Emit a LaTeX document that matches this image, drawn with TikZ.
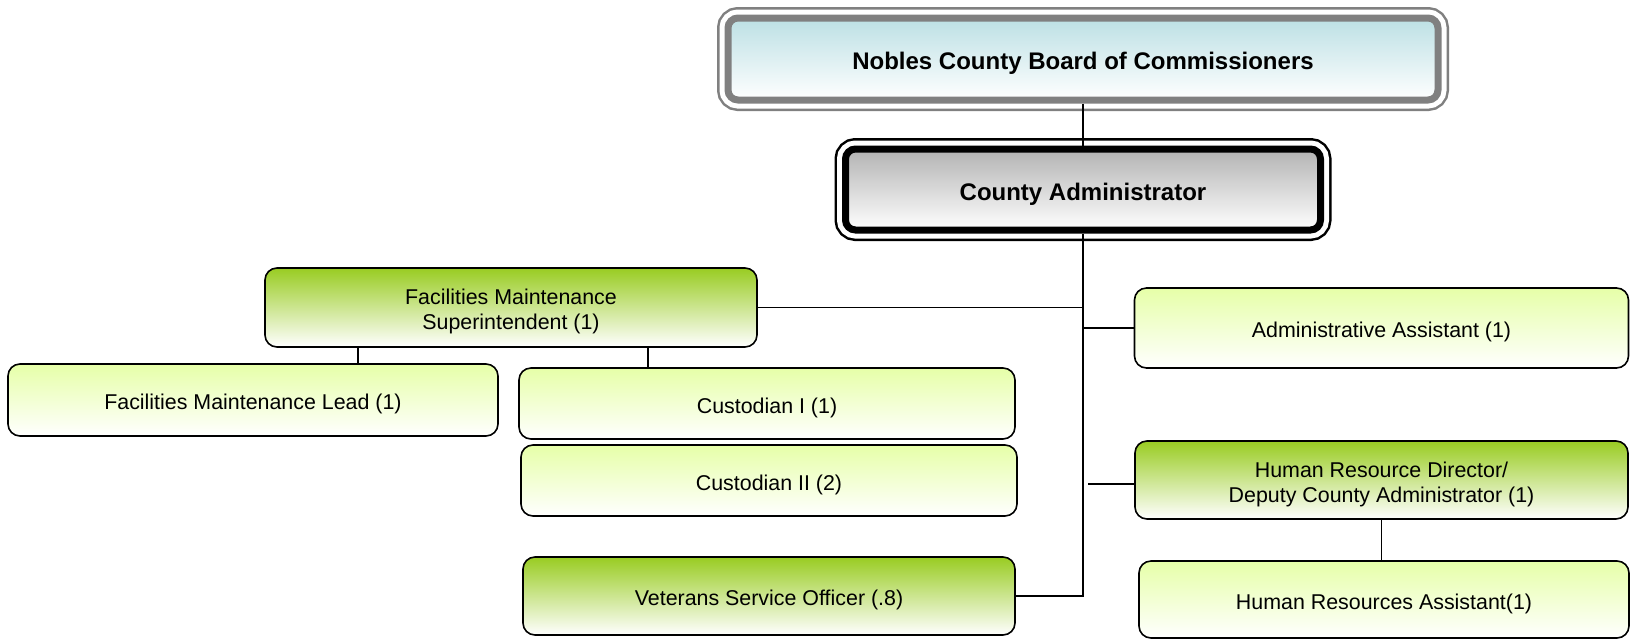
\documentclass[tikz,border=0pt]{standalone}
\usepackage{fontspec}
\setmainfont{Liberation Sans}
\usetikzlibrary{positioning}
\definecolor{leafgreen}{RGB}{153,204,34}
\definecolor{palegreen}{RGB}{230,255,168}
\definecolor{paleblue}{RGB}{188,224,228}
\definecolor{boxgray}{RGB}{128,128,128}

\begin{document}
\begin{tikzpicture}[x=0.5pt,y=-0.5pt,
    box/.style={rectangle,draw,line width=0.8pt,rounded corners=6pt,align=center,
      inner sep=0pt,font=\fontsize{10.7}{12.5}\selectfont,
      execute at begin node={\rule{0pt}{1.1em}}},
    twoline/.style={execute at begin node={\rule{0pt}{24.3pt}}},
    lightbox/.style={box,top color=palegreen,bottom color=white},
    greenbox/.style={box,top color=leafgreen,bottom color=white},
    ringbox/.style={box,draw=#1,line width=3.5pt,rounded corners=5pt,
      font=\bfseries\fontsize{12}{14}\selectfont,
      preaction={draw=#1,line width=11pt},
      preaction={draw=white,line width=8.5pt}},
    link/.style={line width=0.8pt}]
    \useasboundingbox (0,0) rectangle (1630,639);
    % top of the chart
    \node[ringbox=boxgray,top color=paleblue,bottom color=white,
      minimum width=355pt,minimum height=41pt](board) at (1083,59)
      {Nobles County Board of Commissioners};
    \node[ringbox=black,top color=black!30,bottom color=white,
      minimum width=237.5pt,minimum height=40.5pt](admin) at (1083,189.5)
      {County Administrator};
    % left branch
    \node[greenbox,twoline,minimum width=246pt,minimum height=39.5pt](sup) at
      (511,307.5) {Facilities Maintenance\\Superintendent (1)};
    \node[lightbox,minimum width=245pt,minimum height=36pt](lead) at
      (253,400) {Facilities Maintenance Lead (1)};
    \node[lightbox,minimum width=248pt,minimum height=35.5pt](cust1) at
      (767,403.5) {Custodian I (1)};
    \node[lightbox,minimum width=248pt,minimum height=35.5pt](cust2) at
      (769,480.5) {Custodian II (2)};
    \node[greenbox,minimum width=246pt,minimum height=39pt](vet) at
      (769,596) {Veterans Service Officer (.8)};
    % right branch
    \node[lightbox,minimum width=247pt,minimum height=40pt](asst) at
      (1381.5,328) {Administrative Assistant (1)};
    \node[greenbox,twoline,minimum width=246.5pt,minimum height=39pt](hrdir) at
      (1381.5,480) {Human Resource Director/\\Deputy County Administrator (1)};
    \node[lightbox,minimum width=245pt,minimum height=38.5pt](hrasst) at
      (1384,599.5) {Human Resources Assistant(1)};
    \draw[link] (board.south) -- (admin.north);
    \draw[link] (admin.south) |- (vet.east);
    \draw[link] (sup.east) -- (sup.east -| admin.south);
    \draw[link] (asst.west) -- (asst.west -| admin.south);
    \draw[link] ([yshift=-2pt]hrdir.west) -- ([yshift=-2pt,xshift=2.5pt]hrdir.west -| admin.south);
    \draw[link] ([xshift=47pt]sup.south west) -- ([xshift=47pt]sup.south west |- lead.north);
    \draw[link] ([xshift=-55pt]sup.south east) -- ([xshift=-55pt]sup.south east |- cust1.north);
    \draw[link] (hrdir.south) -- (hrdir.south |- hrasst.north);
\end{tikzpicture}
\end{document}
